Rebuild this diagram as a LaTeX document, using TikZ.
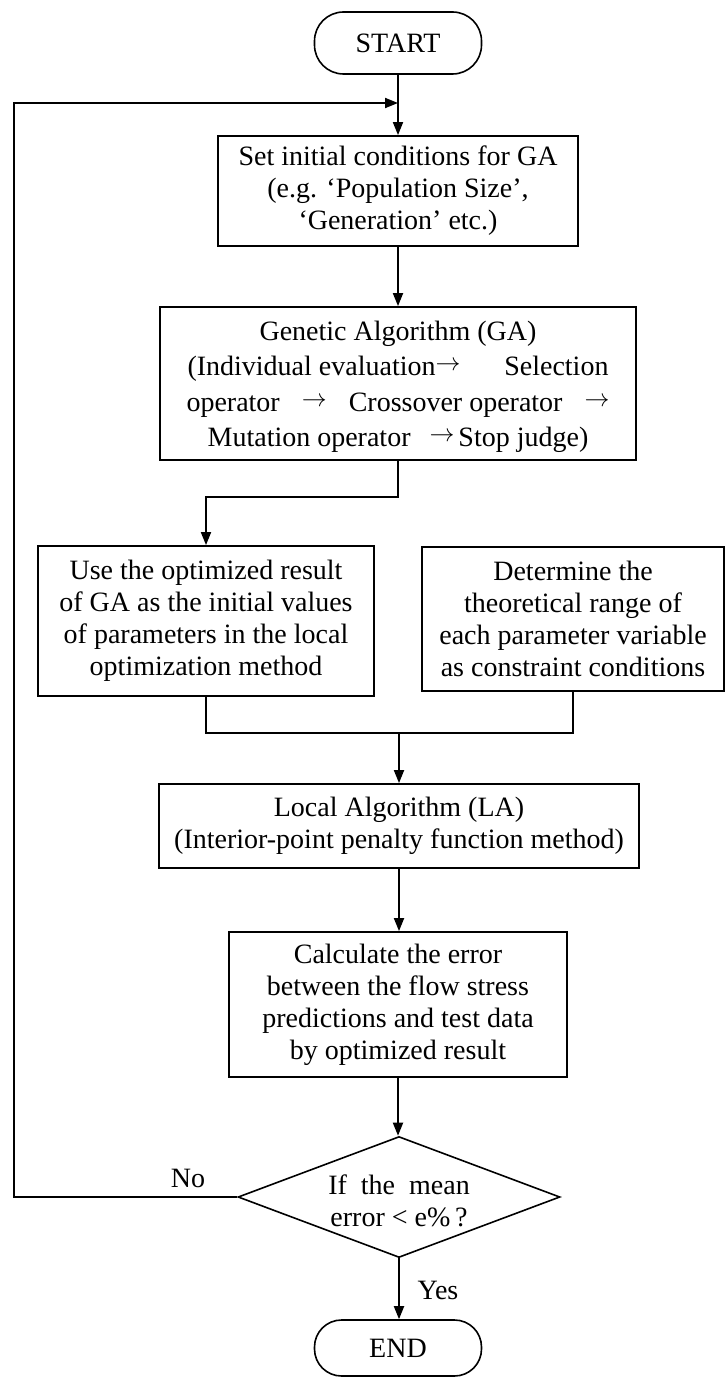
\documentclass[tikz,border=0pt]{standalone}
\usepackage{fontspec}
\setmainfont{Liberation Serif}
\usetikzlibrary{arrows.meta,shapes.geometric}
\begin{document}
\begin{tikzpicture}[x=1pt,y=-1pt,
  every node/.style={font=\fontsize{28pt}{32pt}\selectfont},
  box/.style={draw, line width=1.8pt, inner sep=0pt, align=center},
  term/.style={draw, line width=1.6pt, rounded corners=29pt, inner sep=0pt},
  arr/.style={line width=1.8pt, -{Triangle[length=13pt,width=10pt]}},
  ln/.style={line width=1.8pt},
  lab/.style={inner sep=0pt},
]
\useasboundingbox (0,0) rectangle (726,1378);
\node[term, minimum width=167pt, minimum height=62pt] (start) at (398,43) {START};
\node[box, minimum width=360pt, minimum height=110pt] (b1) at (398,191)
  {Set initial conditions for GA\\(e.g. ‘Population Size’,\\‘Generation’ etc.)};
\node[box, minimum width=476pt, minimum height=153pt] (b2) at (398,383.5) {};
\node[lab, align=center, font=\fontsize{28pt}{35.5pt}\selectfont] (b2t) at (398,387)
  {Genetic Algorithm (GA)\\
   \makebox[421pt]{(Individual evaluation\raisebox{5pt}{$\rightarrow$}\hfill Selection}\\
   \makebox[423pt]{operator\hfill\raisebox{5pt}{$\rightarrow$}\hfill Crossover operator\hfill\raisebox{5pt}{$\rightarrow$}}\\
   Mutation operator\hspace{19pt}\raisebox{5pt}{$\rightarrow$}\hspace{4pt}Stop judge)};
\node[box, minimum width=336pt, minimum height=150pt] (b3) at (206,621)
  {Use the optimized result\\of GA as the initial values\\of parameters in the local\\optimization method};
\node[box, minimum width=302pt, minimum height=144pt] (b4) at (573,619)
  {Determine the\\theoretical range of\\each parameter variable\\as constraint conditions};
\node[box, minimum width=480pt, minimum height=84pt] (b5) at (399,826)
  {Local Algorithm (LA)\\(Interior-point penalty function method)};
\node[box, minimum width=338pt, minimum height=145pt] (b6) at (398,1004.5)
  {Calculate the error\\between the flow stress\\predictions and test data\\by optimized result};
\node[draw, line width=1.6pt, diamond, aspect=2.66, inner sep=0pt, minimum width=322pt, minimum height=121pt] (dec) at (399,1197) {};
\node[lab, align=center] (dtext) at (399,1201) {If~~the~~mean\\error < e\%\,?};
\node[term, minimum width=167pt, minimum height=56pt, rounded corners=27pt] (end) at (398,1348) {END};
\node[lab] (no) at (188,1178) {No};
\node[lab] (yes) at (438,1290) {Yes};
\coordinate (loopin) at (398,103);
\coordinate (lc) at (14,103);
\coordinate (jn) at (399,733);
% connectors
\draw[arr] (start) -- (b1);
\draw[arr] (b1) -- (b2);
\draw[arr] (b2.south) -- ++(0,36) -| (b3.north);
\draw[ln] (b3.south) |- (jn) -| (b4.south);
\draw[arr] (jn) -- (b5.north);
\draw[arr] (b5.south) -- (b5.south |- b6.north);
\draw[arr] (b6.south) -- (b6.south |- dec.north);
\draw[arr] (dec.south) -- (dec.south |- end.north);
\draw[arr] (dec.west) -| (lc) -- (loopin);
\end{tikzpicture}
\end{document}
